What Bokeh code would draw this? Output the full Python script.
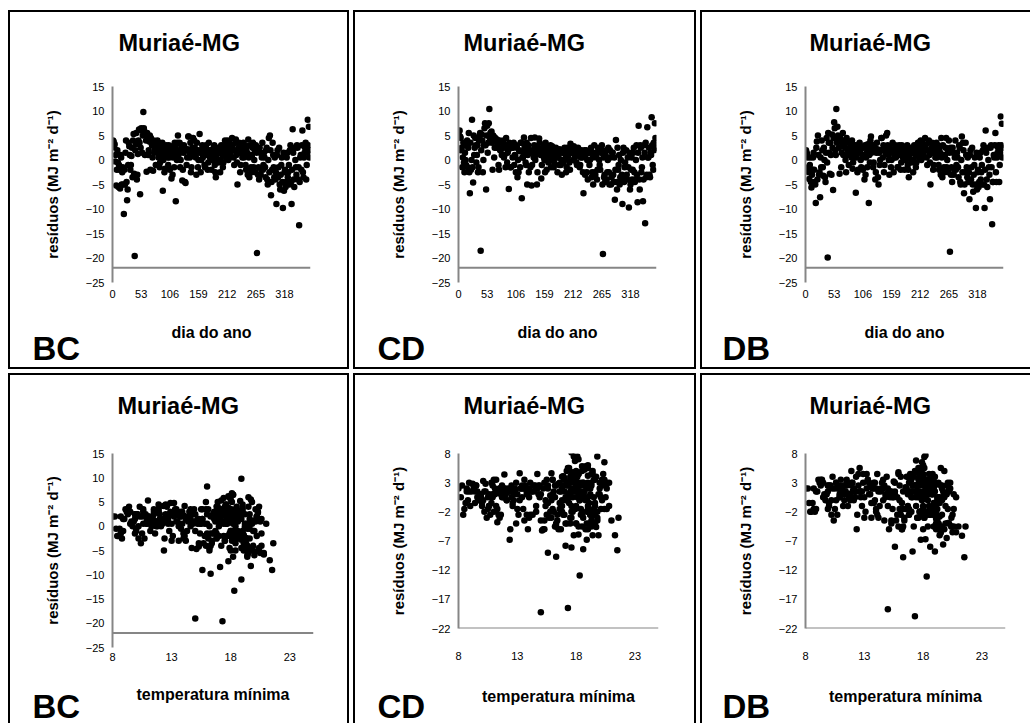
from bokeh.plotting import figure
from bokeh.models import Range1d, FixedTicker, Span, Title, Spacer
from bokeh.layouts import row, column
from bokeh.embed import file_html
from bokeh.resources import INLINE

# ---------------- data ----------------
station = "Muriaé-MG"
x_label_day = "dia do ano"
x_label_temp = "temperatura mínima"
y_label = "resíduos (MJ m⁻² d⁻¹)"

day_ticks = [0, 53, 106, 159, 212, 265, 318]
temp_ticks = [8, 13, 18, 23]
res_ticks_a = [-25, -20, -15, -10, -5, 0, 5, 10, 15]
res_ticks_b = [-22, -17, -12, -7, -2, 3, 8]

# days of year: odd days (first block) and even days (second block)
days_odd = list(range(1, 366, 2))
days_even = list(range(2, 366, 2))

res_bc_odd = [
    4.0, 2.6, -0.3, -5.2, 2.0, -5.5, -2.0, 1.0, -5.0, -1.5,
    -11.0, -5.0, 4.0, -8.2, -1.0, 2.8, -2.0, 0.8, -3.5, 5.3,
    -19.6, 3.2, -4.0, 1.2, 6.2, -7.0, 6.5, 1.5, 9.8, 5.8,
    5.2, -2.4, 4.5, 2.0, 5.0, 4.5, 3.0, -2.2, 1.5, 3.5,
    2.0, 4.0, 0.5, -1.5, 3.0, 1.0, -6.3, 2.5, -1.8, 3.0,
    2.0, -1.0, 0.5, 2.8, -3.8, -3.0, 1.5, 3.5, -8.4, 0.0,
    5.0, 2.0, -1.5, 3.0, -4.2, 1.5, 2.5, -4.7, -1.0, 2.2,
    4.8, 0.5, -2.5, 2.0, 4.5, 4.0, 1.0, -3.0, 2.0, 0.0,
    5.3, -2.5, 1.5, 0.5, 2.5, -1.5, 3.0, 1.0, -0.5, 2.0,
    1.0, -2.0, 0.5, 2.5, -1.0, -3.5, 1.5, 0.0, 2.0, -2.5,
    3.0, 1.0, -0.5, 2.5, 3.5, 1.5, 4.0, 2.5, 0.5, 3.0,
    4.5, 2.0, -1.0, 3.5, 1.0, -5.0, 2.5, 1.5, -1.0, 3.0,
    2.0, 0.5, 3.0, -2.0, 1.5, 4.2, -3.5, 1.0, -2.5, 2.5,
    -1.5, 2.0, 3.0, -19.0, -3.0, -4.0, 1.5, -2.0, 3.5, -1.0,
    0.5, -3.5, 2.5, -5.0, 4.5, 5.0, -7.2, -2.0, 1.0, -3.5,
    -4.0, -9.0, 2.0, -1.5, -5.0, -3.0, 0.5, -9.8, -6.3, -2.0,
    -4.5, 1.5, -2.5, -5.0, 3.0, -9.0, 6.3, -4.0, 2.5, -1.5,
    3.0, -4.0, -13.3, 0.5, -2.0, 6.0, -3.5, 1.5, 3.5, -1.0,
    8.2, 6.8, 2.0,
]
res_bc_even = [
    3.8, 3.2, 1.0, -2.0, -0.5, -1.0, -5.8, 0.5, -2.5, -5.0,
    -2.0, 1.5, -4.5, -6.0, 3.5, 1.0, -1.0, 2.5, 4.0, -2.8,
    2.0, 5.5, -3.0, 4.0, 3.5, 2.5, 6.0, 5.0, 6.5, 1.0,
    4.0, 5.5, 1.0, 3.8, -2.0, 3.5, 0.5, 4.0, 2.5, -1.0,
    3.0, 1.5, 3.5, -0.5, 2.0, 3.5, 0.0, -2.5, 2.0, 1.0,
    0.5, 3.0, -2.0, 1.5, 2.5, 0.5, -1.5, 2.5, 1.0, 3.5,
    1.0, 3.5, 0.0, 2.5, -2.0, 3.0, -4.5, 2.0, 0.5, 4.8,
    1.5, 3.5, -1.5, 2.5, 1.0, 2.5, 0.5, 3.5, -1.5, 1.5,
    2.0, 0.0, 3.0, 1.0, -1.0, 2.5, 1.5, -2.0, 3.5, 0.5,
    2.0, 0.0, 1.5, 3.0, -2.5, 1.0, 2.5, -0.5, 1.5, 0.0,
    2.0, -1.5, 1.5, 4.0, 0.5, 2.5, 0.0, 3.5, 1.5, 2.0,
    3.0, 0.5, 2.0, 4.2, -0.5, 1.5, 3.5, -2.5, 2.0, 0.5,
    3.5, 1.0, -1.0, 2.5, -3.0, 0.5, 3.0, -1.5, 1.0, 3.5,
    0.0, -2.5, 1.5, 2.0, -1.5, 2.5, -3.0, 0.5, -2.0, 1.5,
    -1.5, 2.0, -4.0, 0.0, -2.5, 2.0, -4.5, 3.5, -1.5, 0.5,
    -2.5, 1.0, -3.5, 2.5, -6.0, -1.0, -4.5, 1.5, -2.5, -5.5,
    0.5, -3.5, -1.0, 2.0, -4.5, -2.0, 1.5, -5.5, 0.0, -3.0,
    2.5, -1.5, -4.5, 1.0, 3.0, -2.5, 0.5, 2.5, -4.0, 1.5,
    3.0, 0.5,
]

res_cd_odd = [
    5.8, 4.8, 2.0, -1.5, 3.5, -2.5, 0.0, 3.0, -1.5, 5.5,
    -6.8, -2.0, 8.2, -4.6, 1.0, 4.5, -0.5, 3.0, -1.5, 5.0,
    -18.5, 5.2, -2.5, 3.0, 7.5, -6.0, 7.0, 3.5, 10.4, 5.5,
    5.8, -2.0, 4.8, 2.5, 4.0, 4.2, 3.5, -2.0, 2.0, 3.8,
    2.5, 4.0, 1.0, -1.5, 3.0, 1.5, -5.9, 2.8, -1.5, 3.2,
    2.5, -1.0, 0.8, 3.0, -3.5, -2.5, 1.8, 3.5, -7.8, 0.5,
    4.6, 2.0, -1.0, -5.0, 3.0, 1.5, -1.5, -5.2, 2.0, 0.5,
    4.6, 1.0, -5.0, 2.5, 4.4, 2.0, -3.8, 1.0, 3.0, 0.0,
    3.5, -2.0, 1.5, 0.5, 2.0, -1.5, 2.8, 0.5, -0.5, 1.5,
    1.0, -2.5, 0.5, 2.2, -1.0, -3.0, 1.5, 0.0, 2.0, -2.5,
    2.5, 1.0, -0.5, 3.3, 1.5, 1.5, 2.8, 0.5, 2.0, -1.0,
    2.5, 1.0, -1.0, 2.0, 0.5, -6.8, 2.0, 1.0, -2.5, -4.0,
    1.5, 0.0, 2.5, -2.5, -5.0, 3.0, -3.0, 0.5, -2.0, 2.0,
    -1.0, 1.5, 3.0, -19.2, -3.5, -4.5, 2.0, -2.5, 2.5, -5.0,
    0.5, -3.5, 1.5, -4.5, -8.1, 4.1, -6.0, -2.0, 1.0, -3.5,
    -4.0, -9.0, 2.5, -1.5, -4.0, -3.0, 0.5, -9.7, -6.0, -2.0,
    -4.0, 1.5, -2.5, -4.0, 3.0, -8.6, 7.0, -6.0, 2.5, -1.5,
    -8.4, 3.0, -12.9, -3.5, 6.7, 0.5, -3.0, 1.5, 8.7, -1.0,
    3.5, 7.5, 2.5,
]
res_cd_even = [
    6.0, 4.5, 2.5, 0.5, -0.5, 1.5, -1.0, 4.0, 2.5, -2.5,
    3.5, 0.0, -1.5, 5.0, 2.5, 3.0, 1.0, -2.5, 4.0, 5.5,
    2.0, 4.0, 0.0, 6.5, 3.0, 5.0, 1.5, 7.5, 4.5, 5.5,
    3.5, 5.0, 0.5, 4.5, 2.5, 3.0, -1.0, 4.0, 2.0, 1.0,
    3.5, 0.5, 2.5, 4.5, -0.5, 2.0, 3.5, -1.5, 2.5, 0.5,
    3.5, 1.0, -2.5, 2.5, 0.0, 2.0, -1.5, 3.5, 0.5, 1.5,
    2.5, -0.5, 3.5, 1.0, -2.5, 2.0, 4.5, -1.0, 1.5, 3.0,
    0.0, 2.5, -2.5, 1.5, 3.5, 1.0, -1.0, 2.0, 0.5, -2.5,
    1.5, 2.5, -0.5, 1.0, 3.0, 0.0, 2.0, -1.5, 1.0, 2.5,
    0.5, 1.5, -1.0, 2.0, 0.0, 1.5, -0.5, 2.5, 1.0, -1.5,
    0.5, 2.0, -2.0, 1.5, 2.5, 0.0, 1.5, 2.5, -0.5, 1.0,
    2.0, -1.5, 0.5, 1.5, -2.5, 1.0, -3.0, 2.0, 0.0, 1.5,
    -1.0, 2.0, -3.5, 0.5, 1.5, -2.5, 1.0, -4.0, 2.5, 0.0,
    -2.0, 2.0, -5.0, 0.5, -3.0, 1.0, -4.0, 0.0, -2.5, 2.0,
    -5.0, 1.5, -3.0, 0.5, -2.0, -4.5, 2.5, -1.0, -5.0, 0.0,
    -3.0, 1.5, -4.5, -0.5, 2.0, -4.0, -1.5, 1.5, -5.0, 0.5,
    -2.0, 2.5, -4.5, 0.0, -3.0, 1.5, -4.0, 3.0, -2.5, 0.5,
    -4.0, 1.5, 3.5, -3.0, 0.5, 2.5, -3.5, 1.0, 3.0, -2.0,
    2.0, 4.5,
]

res_db_odd = [
    2.0, 1.2, -1.5, -3.9, 0.5, -5.6, -2.0, 1.5, -4.5, -8.8,
    3.8, 5.0, -3.0, -7.6, -1.5, 2.0, -3.2, 0.0, -4.5, 4.5,
    -19.9, 3.5, -2.8, 1.0, 5.2, -6.1, 7.7, 2.0, 10.4, 6.8,
    4.5, -2.8, 3.8, 1.5, 5.5, 4.0, 2.5, -2.5, 1.0, 3.5,
    2.0, 3.8, 0.5, -1.8, 3.0, 1.0, -6.7, 2.2, -2.0, 3.2,
    1.5, -1.5, 0.5, 2.5, -4.0, -3.0, 1.5, 3.2, -8.8, -0.5,
    4.8, 2.0, -1.5, 3.0, -4.0, 1.5, 2.2, -5.0, -1.0, 2.0,
    4.5, 0.5, -2.5, 2.0, 5.0, 5.5, 1.0, -3.0, 2.0, 0.0,
    3.5, -2.5, 1.5, 0.5, 2.5, -1.5, 3.0, 1.0, -0.5, 2.0,
    1.0, -2.0, 0.5, 2.5, -1.0, -3.5, 1.5, 0.0, 2.0, -2.5,
    3.0, 1.0, -0.5, 2.5, 3.5, 1.5, 4.0, 2.5, 0.5, 3.0,
    4.5, 2.0, -1.0, 3.5, 1.0, -5.0, 2.5, 1.5, -1.0, 3.0,
    2.0, 0.5, 3.0, -2.0, 1.5, 4.5, -3.5, 1.0, -2.5, 2.5,
    -1.5, 2.0, 4.0, -18.7, -3.0, -4.5, 1.5, -2.0, 4.0, -1.0,
    0.5, -3.5, 2.5, -5.0, 4.8, 3.5, -6.8, -2.5, 1.0, -3.5,
    -4.5, -8.0, 2.0, -1.5, -5.0, -3.0, 0.5, -9.8, -6.0, -2.0,
    -4.5, 1.5, -2.5, -5.0, 3.0, -9.8, 6.0, -4.0, 2.5, -1.5,
    -8.0, 3.0, -13.1, -4.5, 0.5, 5.5, -4.5, 1.5, 3.0, -1.0,
    8.9, 7.4, 2.5,
]
res_db_even = [
    1.5, 0.5, -2.5, -1.0, -4.5, -3.0, 0.5, -2.0, -5.0, 2.5,
    -4.0, 1.0, -2.5, 0.5, 4.0, -1.5, 2.5, -3.5, 1.5, -0.5,
    5.5, 1.5, 3.5, -3.0, 2.5, 4.5, 6.5, 1.0, 3.5, 5.0,
    2.5, 4.5, -1.5, 3.0, 1.0, 3.5, 0.0, 4.5, 2.0, -1.0,
    2.5, 1.0, 4.0, -0.5, 2.0, 3.0, 0.5, -2.5, 1.5, 3.5,
    0.0, 2.5, -2.0, 1.0, 3.0, 0.5, -1.5, 2.5, 1.0, 4.0,
    1.5, 3.0, -0.5, 2.0, -2.5, 3.5, -3.5, 1.5, 0.0, 4.5,
    2.0, 3.0, -1.0, 1.5, 2.5, 3.0, 0.0, 2.5, -1.5, 1.5,
    2.0, 0.5, 3.0, 1.0, -1.5, 2.5, 1.5, -2.0, 3.0, 0.5,
    2.0, 0.0, 1.5, 3.0, -2.0, 1.0, 2.5, -0.5, 1.5, 0.0,
    2.0, -1.5, 1.5, 3.5, 0.5, 2.5, 0.0, 3.5, 1.5, 2.0,
    3.0, 0.5, 2.0, 4.0, -0.5, 1.5, 3.5, -2.0, 2.0, 0.5,
    3.5, 1.0, -1.0, 2.5, -3.0, 0.5, 3.0, -1.5, 1.0, 4.5,
    0.0, -2.5, 1.5, 2.5, -1.5, 2.5, -3.0, 0.5, -2.0, 1.5,
    -1.5, 3.0, -4.5, 0.0, -2.5, 2.0, -5.0, 3.5, -1.5, 0.5,
    -2.5, 1.0, -4.0, 2.5, -6.5, -1.0, -5.0, 1.5, -2.5, -5.5,
    0.5, -4.0, -1.0, 2.0, -5.0, -2.0, 1.5, -5.5, 0.0, -3.0,
    2.5, -1.5, -4.5, 1.0, 3.0, -2.5, 0.5, 2.5, -4.5, 1.5,
    3.0, 0.5,
]

# minimum temperature (°C) of the same days
tmin_odd = [
    18.5, 17.8, 19.2, 20.1, 18.0, 19.5, 18.3, 17.5, 20.4, 19.0,
    18.9, 19.8, 17.6, 19.7, 18.6, 20.3, 19.1, 17.9, 18.4, 17.2,
    17.3, 18.7, 19.4, 20.0, 17.8, 21.3, 18.2, 19.6, 18.9, 17.4,
    18.8, 19.3, 17.6, 20.2, 18.1, 19.0, 17.7, 18.5, 20.6, 17.0,
    18.3, 16.8, 19.2, 17.9, 18.6, 17.5, 18.2, 16.5, 19.1, 17.8,
    16.9, 18.0, 15.8, 17.2, 19.3, 16.4, 17.7, 15.5, 17.1, 16.2,
    15.9, 14.6, 16.8, 13.9, 15.3, 14.2, 13.5, 15.1, 12.8, 14.0,
    13.2, 14.8, 12.4, 13.7, 11.9, 12.6, 11.3, 13.0, 10.8, 12.1,
    11.0, 10.2, 12.3, 9.6, 11.5, 10.5, 9.2, 11.8, 10.0, 8.7,
    9.8, 8.4, 10.9, 9.3, 11.2, 10.4, 8.9, 9.7, 8.0, 10.7,
    9.5, 11.6, 8.6, 10.1, 9.1, 11.4, 10.3, 9.9, 12.2, 10.6,
    12.5, 11.1, 10.0, 13.3, 11.7, 12.35, 13.6, 12.0, 14.3, 12.9,
    13.8, 12.7, 14.5, 13.1, 15.2, 14.1, 15.7, 13.4, 16.1, 14.7,
    15.4, 14.4, 16.6, 15.0, 13.6, 16.3, 15.6, 17.0, 14.9, 16.7,
    17.4, 15.3, 18.1, 16.2, 17.6, 16.9, 17.8, 15.8, 18.4, 16.4,
    17.2, 15.6, 18.7, 16.0, 19.1, 17.5, 18.2, 16.3, 19.4, 17.7,
    18.9, 16.6, 19.6, 18.0, 20.3, 21.5, 18.0, 19.9, 17.3, 20.6,
    18.6, 19.3, 18.3, 21.0, 17.9, 19.5, 21.6, 18.4, 20.1, 19.0,
    16.0, 18.1, 18.8,
]
tmin_even = [
    19.0, 18.2, 20.5, 17.4, 19.6, 18.1, 20.8, 17.7, 19.3, 18.4,
    20.2, 18.8, 17.9, 19.4, 18.0, 18.6, 20.0, 19.2, 17.5, 18.9,
    17.6, 19.7, 18.3, 20.4, 19.0, 18.5, 17.9, 19.8, 18.2, 17.3,
    19.5, 18.0, 20.1, 17.8, 18.7, 18.4, 19.6, 16.9, 18.9, 19.9,
    17.6, 18.8, 17.2, 19.4, 16.6, 18.0, 17.0, 19.0, 16.3, 17.7,
    16.0, 17.4, 18.5, 15.6, 16.8, 15.2, 16.6, 17.5, 14.9, 16.1,
    14.4, 15.6, 13.6, 15.0, 14.1, 13.3, 14.7, 12.6, 13.9, 12.9,
    12.1, 13.4, 11.6, 12.8, 11.2, 12.0, 10.6, 11.9, 9.9, 11.4,
    10.3, 11.7, 9.4, 10.9, 8.9, 9.9, 11.1, 8.5, 10.6, 9.5,
    8.2, 10.2, 9.0, 11.5, 8.8, 9.6, 10.8, 8.3, 9.9, 11.3,
    10.5, 8.7, 11.0, 9.4, 10.9, 10.1, 11.8, 9.3, 12.6, 11.0,
    11.9, 13.0, 10.8, 12.3, 13.8, 12.7, 11.5, 14.0, 13.2, 12.2,
    14.6, 13.5, 15.0, 12.5, 14.2, 15.5, 13.8, 16.3, 14.8, 15.9,
    14.6, 16.8, 15.3, 17.1, 14.0, 16.0, 17.5, 15.4, 16.9, 18.0,
    16.5, 17.9, 15.9, 18.4, 16.8, 18.2, 16.2, 17.6, 19.0, 17.1,
    18.6, 16.7, 19.3, 17.4, 20.0, 18.0, 19.5, 17.0, 18.8, 20.5,
    17.6, 19.1, 18.5, 20.2, 19.8, 18.3, 17.1, 20.8, 19.2, 18.1,
    19.6, 18.7, 20.4, 17.6, 19.0, 18.3, 19.8, 17.5, 20.6, 18.9,
    17.8, 19.3,
]

days = days_odd + days_even
tmin = tmin_odd + tmin_even
res_bc = res_bc_odd + res_bc_even
res_cd = res_cd_odd + res_cd_even
res_db = res_db_odd + res_db_even

# ---------------- styling ----------------
FONT = "Liberation Sans"
GRAY = "#868686"
B = "2px solid black"


def make_panel(xs, ys, xr, yr, xticks, yticks, tag, xlabel, W, H, fl, ft, fw, fh,
               title_off, title_gap, xstand, xlab_stand, tag_off, tag_stand, border):
    p = figure(width=W, height=H, x_range=Range1d(*xr), y_range=Range1d(*yr),
               output_backend="svg", toolbar_location=None,
               min_border_left=fl, min_border_top=ft,
               min_border_right=W - fl - fw, min_border_bottom=H - ft - fh)
    p.grid.visible = False
    p.outline_line_color = None
    p.background_fill_color = "white"
    p.border_fill_color = "white"

    p.scatter(xs, ys, size=6.5, fill_color="black", line_color=None)

    p.xaxis.ticker = FixedTicker(ticks=xticks)
    p.yaxis.ticker = FixedTicker(ticks=yticks)
    for ax in (p.xaxis, p.yaxis):
        ax.major_tick_line_color = None
        ax.minor_tick_line_color = None
        ax.major_tick_out = 0
        ax.major_tick_in = 0
        ax.major_label_text_font = FONT
        ax.major_label_text_font_size = "11px"
        ax.major_label_text_color = "black"
        ax.axis_label_text_font = FONT
        ax.axis_label_text_font_style = "bold"
        ax.axis_label_text_color = "black"
    p.xaxis.axis_line_color = None
    p.xaxis.major_label_standoff = xstand
    p.xaxis.axis_label = xlabel
    p.xaxis.axis_label_text_font_size = "16px"
    p.xaxis.axis_label_standoff = xlab_stand
    p.yaxis.axis_line_color = GRAY
    p.yaxis.axis_line_width = 2
    p.yaxis.major_label_standoff = 8
    p.yaxis.axis_label = y_label
    p.yaxis.axis_label_text_font_size = "15px"
    p.yaxis.axis_label_standoff = 22

    p.add_layout(Span(location=-22, dimension="width", line_color=GRAY, line_width=2))

    # blank gap between the plot area and the station title
    p.add_layout(Title(text=" ", standoff=title_gap, text_font=FONT,
                       text_font_size="10px"), "above")

    p.title.text = station
    p.title.align = "left"
    p.title.offset = title_off
    p.title.standoff = 0
    p.title.vertical_align = "top"
    p.title.text_font = FONT
    p.title.text_font_size = "23.5px"
    p.title.text_font_style = "bold"
    p.title.text_color = "black"

    p.add_layout(Title(text=tag, align="left", offset=tag_off, standoff=tag_stand,
                       vertical_align="top", text_font=FONT, text_font_size="33px",
                       text_font_style="bold", text_color="black"), "below")

    p.styles = border
    return p


top_specs = [
    (res_bc, "BC", 341, 102, 6, -80, {"border": B}),
    (res_cd, "CD", 343, 103, 5, -81, {"border": B}),
    (res_db, "DB", 330, 103, 4, -83,
     {"border-left": B, "border-top": B, "border-bottom": B}),
]
top = []
for res, tag, W, fl, t_off, g_off, brd in top_specs:
    top.append(make_panel(days, res, (0, 366), (-25, 15), day_ticks, res_ticks_a, tag,
                          x_label_day, W, 359, fl, 74, 198, 196,
                          t_off, 16, 7, 23, g_off, -28, brd))

bot_specs = [
    (res_bc, "BC", 341, 102, 201, 194, (-25, 15), res_ticks_a, 5, 22, 5, -80, -36,
     {"border-left": B, "border-top": B, "border-right": B}),
    (res_cd, "CD", 343, 103, 200, 175, (-22, 8), res_ticks_b, 23, 25, 5, -81, -40,
     {"border-left": B, "border-top": B, "border-right": B}),
    (res_db, "DB", 330, 103, 200, 175, (-22, 8), res_ticks_b, 23, 25, 4, -83, -40,
     {"border-left": B, "border-top": B}),
]
bottom = []
for res, tag, W, fl, fw, fh, yr, yt, xs_, xls, t_off, g_off, g_st, brd in bot_specs:
    bottom.append(make_panel(tmin, res, (8, 25), yr, temp_ticks, yt, tag,
                             x_label_temp, W, 350, fl, 78, fw, fh,
                             t_off, 20, xs_, xls, g_off, g_st, brd))

# each panel in its own box so that frames are not aligned across a row
p = column(Spacer(width=1, height=6),
           row(Spacer(width=4, height=1), *[column(f) for f in top], spacing=4),
           row(Spacer(width=4, height=1), *[column(f) for f in bottom], spacing=4),
           spacing=4)

open("out.html", "w").write(file_html(p, INLINE))
